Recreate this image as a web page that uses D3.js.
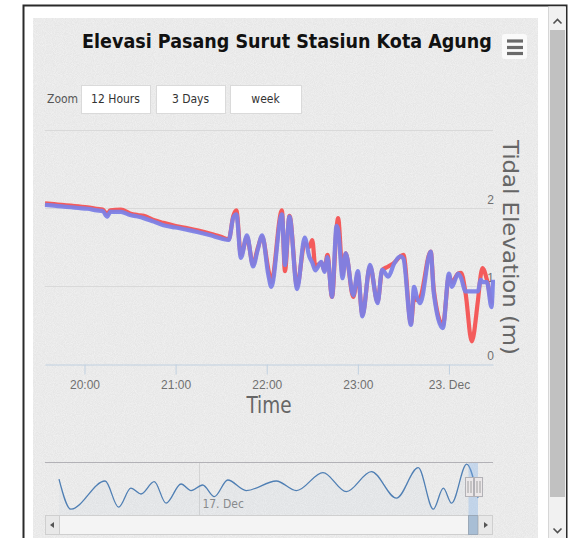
<!DOCTYPE html>
<html><head><meta charset="utf-8">
<script src="https://cdn.jsdelivr.net/npm/d3@7"></script>
<style>
html,body{margin:0;padding:0;background:#fff;}
svg{display:block;}
</style></head>
<body>
<div id="chart"></div>
<script>
// ---------- DATA ----------
const chartTitle = "Elevasi Pasang Surut Stasiun Kota Agung";
const yAxisTitle = "Tidal Elevation (m)";
const xAxisTitle = "Time";
const zoomButtons = ["12 Hours", "3 Days", "week"];
const yTicks = [0, 1, 2, 3];
const yTickLabels = ["0", "1", "2", ""];
const xTickTimes = ["2014-12-22 20:00", "2014-12-22 21:00", "2014-12-22 22:00", "2014-12-22 23:00", "2014-12-23 00:00"];
const xTickLabels = ["20:00", "21:00", "22:00", "23:00", "23. Dec"];

const mainTimes = [
 "2014-12-22 19:34","2014-12-22 19:40","2014-12-22 19:45","2014-12-22 19:51","2014-12-22 19:56",
 "2014-12-22 20:02","2014-12-22 20:08","2014-12-22 20:12","2014-12-22 20:15","2014-12-22 20:17",
 "2014-12-22 20:24","2014-12-22 20:30","2014-12-22 20:35","2014-12-22 20:39","2014-12-22 20:45",
 "2014-12-22 20:52","2014-12-22 21:00","2014-12-22 21:08","2014-12-22 21:15","2014-12-22 21:23",
 "2014-12-22 21:30","2014-12-22 21:35","2014-12-22 21:38","2014-12-22 21:40","2014-12-22 21:43",
 "2014-12-22 21:47","2014-12-22 21:51","2014-12-22 21:54","2014-12-22 21:57","2014-12-22 22:01",
 "2014-12-22 22:03","2014-12-22 22:10","2014-12-22 22:12","2014-12-22 22:15","2014-12-22 22:20",
 "2014-12-22 22:25","2014-12-22 22:28","2014-12-22 22:30","2014-12-22 22:32","2014-12-22 22:36",
 "2014-12-22 22:38","2014-12-22 22:40","2014-12-22 22:43","2014-12-22 22:46","2014-12-22 22:47",
 "2014-12-22 22:50","2014-12-22 22:52","2014-12-22 22:57","2014-12-22 23:00","2014-12-22 23:03",
 "2014-12-22 23:08","2014-12-22 23:13","2014-12-22 23:16","2014-12-22 23:20","2014-12-22 23:24",
 "2014-12-22 23:28","2014-12-22 23:30","2014-12-22 23:35","2014-12-22 23:37","2014-12-22 23:39",
 "2014-12-22 23:41","2014-12-22 23:48","2014-12-22 23:50","2014-12-22 23:56","2014-12-23 00:00",
 "2014-12-23 00:02","2014-12-23 00:06","2014-12-23 00:08","2014-12-23 00:11","2014-12-23 00:15",
 "2014-12-23 00:19","2014-12-23 00:21","2014-12-23 00:22","2014-12-23 00:25","2014-12-23 00:28",
 "2014-12-23 00:29"];
const redValues = [
 2.06,2.05,2.04,2.03,2.02, 2.01,1.99,1.98,1.92,1.97, 1.98,1.93,1.91,1.90,1.85,
 1.81,1.77,1.74,1.71,1.67, 1.63,1.60,1.90,1.97,1.40, 1.62,1.28,1.48,1.63,1.22,
 1.05,1.97,1.19,1.90,1.00, 1.55,1.50,1.59,1.25,1.30, 1.20,1.40,0.86,1.75,1.87,
 1.15,1.42,0.86,1.15,0.63, 1.25,0.80,1.20,1.25,1.30, 1.38,1.40,0.52,0.85,0.82,
 0.85,1.44,0.95,0.50,1.12, 1.05,1.16,1.17,0.90,0.29, 0.80,1.15,1.23,1.08,0.80,
 0.78];
const blueValues = [
 2.04,2.03,2.02,2.01,2.00, 1.99,1.97,1.96,1.89,1.95, 1.95,1.91,1.89,1.87,1.83,
 1.78,1.75,1.72,1.69,1.65, 1.61,1.59,1.88,1.92,1.36, 1.65,1.25,1.46,1.65,1.15,
 0.99,1.92,1.27,1.89,0.96, 1.62,1.38,1.30,1.20,1.31, 1.18,1.37,0.86,1.77,1.72,
 1.10,1.42,0.88,1.19,0.61, 1.27,0.78,1.21,1.12,1.29, 1.38,1.35,0.50,0.99,0.85,
 0.78,1.44,0.91,0.46,1.16, 0.99,1.16,1.10,0.93,0.93, 0.93,1.08,1.05,1.05,0.73,
 1.08];

const navTimes = [
 "2014-12-13 23:12","2014-12-14 05:18","2014-12-14 23:06","2014-12-15 06:06","2014-12-15 12:30",
 "2014-12-15 17:42","2014-12-16 00:36","2014-12-16 06:42","2014-12-16 14:30","2014-12-16 19:42",
 "2014-12-17 01:42","2014-12-17 07:48","2014-12-17 14:42","2014-12-18 00:18","2014-12-18 15:54",
 "2014-12-19 02:18","2014-12-19 16:06","2014-12-20 04:12","2014-12-20 17:12","2014-12-21 06:12",
 "2014-12-21 17:30","2014-12-22 01:18","2014-12-22 06:30","2014-12-22 10:48","2014-12-22 18:36",
 "2014-12-23 00:29"];
const navValues = [
 1.64,0.14,1.55,0.24,1.19, 0.90,1.52,0.44,1.40,1.07, 1.35,0.77,1.60,1.07,1.55,
 1.07,1.97,1.02,2.02,0.69, 2.22,0.14,1.19,0.44,2.39, 0.70];
const navTickTimes = ["2014-12-17 00:00"];
const navTickLabels = ["17. Dec"];

// ---------- RENDER ----------
const W = 570, H = 538;
const parse = d3.timeParse("%Y-%m-%d %H:%M");
const mainData = mainTimes.map((t, i) => ({t: parse(t), red: redValues[i], blue: blueValues[i]}));
const navData = navTimes.map((t, i) => ({t: parse(t), v: navValues[i]}));

const svg = d3.select("#chart").append("svg").attr("width", W).attr("height", H)
  .style("font-family", "'Liberation Sans Narrow','DejaVu Sans Condensed',Roboto,'Liberation Sans',sans-serif");

const defs = svg.append("defs");
const f = defs.append("filter").attr("id", "grain").attr("x", 0).attr("y", 0).attr("width", "100%").attr("height", "100%");
f.append("feTurbulence").attr("type", "fractalNoise").attr("baseFrequency", 1.1).attr("numOctaves", 1).attr("seed", 4).attr("result", "t");
f.append("feColorMatrix").attr("in", "t").attr("type", "matrix")
  .attr("values", "0 0 0 0 1  0 0 0 0 1  0 0 0 0 1  0.9 0 0 0 -0.25");

// outer frame
svg.append("rect").attr("x", 23.5).attr("y", 5.5).attr("width", 543).attr("height", 545)
  .attr("fill", "#fff").attr("stroke", "#2a2a2a").attr("stroke-width", 2);
// chart background
svg.append("rect").attr("x", 33).attr("y", 18).attr("width", 505).attr("height", 530).attr("fill", "#e6e6e6");
svg.append("rect").attr("x", 33).attr("y", 18).attr("width", 505).attr("height", 530).attr("fill", "#fff").attr("filter", "url(#grain)").attr("opacity", 0.9);

// right browser scrollbar
svg.append("rect").attr("x", 549).attr("y", 6.5).attr("width", 17).attr("height", 540).attr("fill", "#f1f1f1");
svg.append("line").attr("x1", 548.5).attr("x2", 548.5).attr("y1", 6.5).attr("y2", 538).attr("stroke", "#d6d6d6");
svg.append("rect").attr("x", 550).attr("y", 30).attr("width", 15).attr("height", 467).attr("fill", "#c1c1c1");
svg.append("path").attr("d", "M553.5,23.5 L557.5,19.5 L561.5,23.5").attr("fill", "none").attr("stroke", "#505050").attr("stroke-width", 1.6);
svg.append("path").attr("d", "M553.5,528.5 L557.5,532.5 L561.5,528.5").attr("fill", "none").attr("stroke", "#505050").attr("stroke-width", 1.6);

// title: font size chosen so its natural width fits the reference width
const title = svg.append("text").attr("x", 287).attr("y", 48).attr("text-anchor", "middle")
  .attr("font-size", 26).attr("font-weight", "bold").attr("fill", "#111").text(chartTitle);
const natural = title.node().getComputedTextLength();
title.attr("font-size", Math.min(27, 26 * 410 / natural));

// hamburger menu
svg.append("rect").attr("x", 502).attr("y", 34).attr("width", 25).attr("height", 25).attr("rx", 3).attr("fill", "#fafafa");
[41, 47.5, 53.5].forEach(y => svg.append("line").attr("x1", 507).attr("x2", 523).attr("y1", y).attr("y2", y)
  .attr("stroke", "#6a6a6a").attr("stroke-width", 3.2));

// range selector
svg.append("text").attr("x", 47).attr("y", 103).attr("font-size", 12).attr("fill", "#555").text("Zoom");
const btnX = [81, 156, 230], btnW = [69, 69, 71];
zoomButtons.forEach((b, i) => {
  svg.append("rect").attr("x", btnX[i] + 0.5).attr("y", 85.5).attr("width", btnW[i]).attr("height", 28)
    .attr("fill", "#fff").attr("stroke", "#dadada");
  svg.append("text").attr("x", btnX[i] + btnW[i] / 2).attr("y", 103).attr("text-anchor", "middle")
    .attr("font-size", 12).attr("fill", "#333").text(b);
});

// main scales
const x = d3.scaleTime().domain([mainData[0].t, mainData[mainData.length - 1].t]).range([45, 493]);
const y = d3.scaleLinear().domain([0, 3]).range([364, 130]);

// gridlines
svg.append("g").selectAll("line").data(yTicks.filter(d => d > 0)).join("line")
  .attr("x1", 45).attr("x2", 493).attr("y1", d => Math.round(y(d)) + 0.5).attr("y2", d => Math.round(y(d)) + 0.5)
  .attr("stroke", "#d9d9d9").attr("stroke-width", 1);

// y axis (opposite) labels
const yAx = svg.append("g").attr("transform", "translate(494,0)")
  .call(d3.axisRight(y).tickValues(yTicks).tickFormat((d, i) => yTickLabels[i]).tickSize(0));
yAx.select(".domain").remove();
yAx.selectAll("text").attr("x", 0).attr("dy", "-0.35em").attr("text-anchor", "end")
  .attr("font-size", 12).attr("fill", "#707070").style("font-family", "inherit");

// x axis
const xTicksParsed = xTickTimes.map(parse);
const xAx = svg.append("g").attr("transform", "translate(0,364.5)")
  .call(d3.axisBottom(x).tickValues(xTicksParsed).tickFormat((d, i) => xTickLabels[i]).tickSize(10).tickSizeOuter(0));
xAx.select(".domain").attr("stroke", "#c0d0e0");
xAx.selectAll(".tick line").attr("stroke", "#c0d0e0");
xAx.selectAll("text").attr("y", 17).attr("dy", "0.6em").attr("font-size", 12).attr("fill", "#707070").style("font-family", "inherit");

// axis titles
svg.append("text").attr("x", 269).attr("y", 413).attr("text-anchor", "middle").attr("font-size", 23)
  .attr("fill", "#666").text(xAxisTitle).attr("textLength", 45).attr("lengthAdjust", "spacingAndGlyphs");
svg.append("text").attr("transform", "translate(503,140) rotate(90)").attr("font-size", 22)
  .attr("fill", "#666").text(yAxisTitle).attr("textLength", 215).attr("lengthAdjust", "spacingAndGlyphs");

// series
const clip = defs.append("clipPath").attr("id", "plotclip");
clip.append("rect").attr("x", 43).attr("y", 120).attr("width", 452).attr("height", 250);
const lineRed = d3.line().x(d => x(d.t)).y(d => y(d.red)).curve(d3.curveMonotoneX);
const lineBlue = d3.line().x(d => x(d.t)).y(d => y(d.blue)).curve(d3.curveMonotoneX);
const plot = svg.append("g").attr("clip-path", "url(#plotclip)");
plot.append("path").datum(mainData).attr("d", lineRed).attr("fill", "none")
  .attr("stroke", "#f45b5b").attr("stroke-width", 4.2).attr("stroke-linejoin", "round");
plot.append("path").datum(mainData).attr("d", lineBlue).attr("fill", "none")
  .attr("stroke", "#7c81e6").attr("stroke-width", 4.2).attr("stroke-linejoin", "round").attr("opacity", 0.95);

// ---------- NAVIGATOR ----------
const navTop = 462, navBottom = 515;
const nx = d3.scaleTime().domain([navData[0].t, navData[navData.length - 1].t]).range([59, 478]);
const ny = d3.scaleLinear().domain([0, 2.5]).range([512, 462]);

const navTicks = navTickTimes.map(parse);
svg.append("g").selectAll("line").data(navTicks).join("line")
  .attr("x1", d => Math.round(nx(d)) + 0.5).attr("x2", d => Math.round(nx(d)) + 0.5)
  .attr("y1", navTop).attr("y2", navBottom).attr("stroke", "#d4d4d4");
svg.append("g").selectAll("text").data(navTicks).join("text")
  .attr("x", d => nx(d) + 3).attr("y", 508).attr("font-size", 12).attr("fill", "#8a8a8a")
  .text((d, i) => navTickLabels[i]);

const navArea = d3.area().x(d => nx(d.t)).y0(navBottom).y1(d => ny(d.v)).curve(d3.curveMonotoneX);
const navLine = d3.line().x(d => nx(d.t)).y(d => ny(d.v)).curve(d3.curveMonotoneX);
svg.append("path").datum(navData).attr("d", navArea).attr("fill", "rgba(95,152,207,0.04)");
svg.append("path").datum(navData).attr("d", navLine).attr("fill", "none").attr("stroke", "#4f7fb4").attr("stroke-width", 1.3);

// selected range mask
const mx0 = nx(mainData[0].t), mx1 = nx(mainData[mainData.length - 1].t);
svg.append("rect").attr("x", mx0).attr("y", navTop).attr("width", mx1 - mx0).attr("height", navBottom - navTop)
  .attr("fill", "rgba(128,179,236,0.35)");
// outline
svg.append("line").attr("x1", 45).attr("x2", 493).attr("y1", navTop + 0.5).attr("y2", navTop + 0.5).attr("stroke", "#b2b1b6");

// handles
[mx0, mx1].forEach(hx => {
  const g = svg.append("g").attr("transform", `translate(${Math.round(hx) + 0.5},0)`);
  g.append("rect").attr("x", -4).attr("y", 477.5).attr("width", 8).attr("height", 19)
    .attr("fill", "#ebe7e8").attr("stroke", "#b2b1b6");
  g.append("line").attr("x1", -1.5).attr("x2", -1.5).attr("y1", 481).attr("y2", 493).attr("stroke", "#a0a0a0");
  g.append("line").attr("x1", 1.5).attr("x2", 1.5).attr("y1", 481).attr("y2", 493).attr("stroke", "#a0a0a0");
});

// scrollbar
const sbY = 515.5, sbH = 19;
svg.append("rect").attr("x", 59.5).attr("y", sbY).attr("width", 419).attr("height", sbH)
  .attr("fill", "#f4f4f4").attr("stroke", "#cfcfcf");
svg.append("rect").attr("x", mx0).attr("y", sbY).attr("width", mx1 - mx0).attr("height", sbH)
  .attr("fill", "#a8bed5").attr("stroke", "#9aa8b8");
[[45.5, "M54,522 L50,525 L54,528Z"], [478.5, "M484,522 L488,525 L484,528Z"]].forEach(([bx, p]) => {
  svg.append("rect").attr("x", bx).attr("y", sbY).attr("width", 14).attr("height", sbH)
    .attr("fill", "#e8e8e8").attr("stroke", "#cfcfcf");
  svg.append("path").attr("d", p).attr("fill", "#555");
});
</script>
</body></html>
